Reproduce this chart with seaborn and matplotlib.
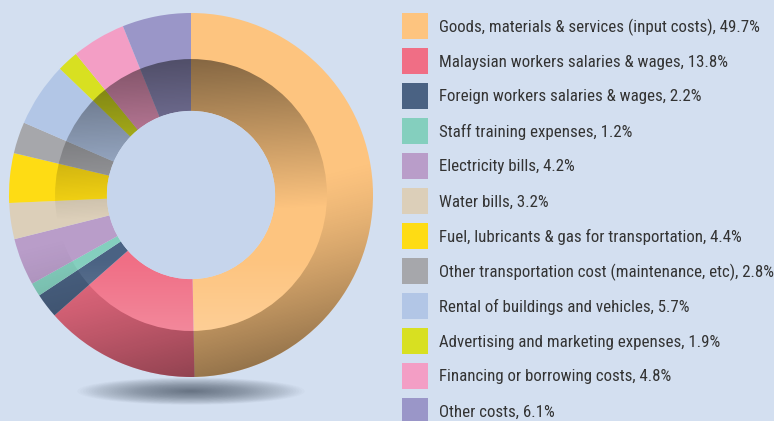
import numpy as np
import matplotlib
matplotlib.use("Agg")
import matplotlib.pyplot as plt
import seaborn as sns
from matplotlib import font_manager
from matplotlib.patches import Circle, Ellipse, Wedge

# cost items, share of total (%)
categories = [
    "Goods, materials & services (input costs)",
    "Malaysian workers salaries & wages",
    "Foreign workers salaries & wages",
    "Staff training expenses",
    "Electricity bills",
    "Water bills",
    "Fuel, lubricants & gas for transportation",
    "Other transportation cost (maintenance, etc)",
    "Rental of buildings and vehicles",
    "Advertising and marketing expenses",
    "Financing or borrowing costs",
    "Other costs",
]
shares = [49.7, 13.8, 2.2, 1.2, 4.2, 3.2, 4.4, 2.8, 5.7, 1.9, 4.8, 6.1]
colors = ["#fdc47f", "#f06e85", "#4a6283", "#84cfbe", "#b99dc9", "#dccfb9",
          "#fedc14", "#a6a7ab", "#b2c6e6", "#d8e021", "#f39ec5", "#9a96c8"]

BG = "#d3dff0"
HOLE = "#c6d5ec"
R_OUT, R_MID, R_IN = 1.0, 0.747, 0.462

sns.set_theme(style="white")

# narrowest installed sans available for the legend
installed = {f.name for f in font_manager.fontManager.ttflist}
stretch = "normal"
family = "Roboto"
for cand in ["Liberation Sans Narrow", "Roboto Condensed", "Open Sans Condensed"]:
    if cand in installed:
        family = cand
        break
else:
    condensed = [f for f in font_manager.fontManager.ttflist
                 if f.name == "DejaVu Sans" and "ondensed" in f.fname and f.style == "normal"]
    if condensed:
        family, stretch = "DejaVu Sans", "condensed"
plt.rcParams["font.family"] = [family, "DejaVu Sans"]

fig = plt.figure(figsize=(7.74, 4.21), dpi=100, facecolor=BG)

# pie axes: 182 px per data unit, centre at (191, 195) px from top-left
px = 182.0
ax = fig.add_axes([0, 0, 390 / 774, 1])
ax.set_facecolor(BG)
palette = sns.color_palette(colors)

# soft shadow under the ring (stacked translucent ellipses -> radial falloff)
for k in range(40):
    f = 1 - k / 40
    ax.add_patch(Ellipse((0, -1.078), 1.25 * f, 0.15 * f, color="#3a4454",
                         alpha=0.022, lw=0, zorder=0))

wedges, _ = ax.pie(shares, colors=palette, startangle=90, counterclock=False,
                   radius=R_OUT, wedgeprops=dict(width=R_OUT - R_IN, linewidth=0))
for w in wedges:
    w.set_zorder(2)

# shading: outer band darkens toward the bottom, inner band darkens toward the top
n = 400
yy, xx = np.mgrid[1:-1:n * 1j, -1:1:n * 1j]
outer = np.zeros((n, n, 4))
outer[..., 3] = 0.42 * np.clip((-yy - 0.05 + 0.25 * xx) / 1.0, 0, 1) ** 1.3
inner = np.zeros((n, n, 4))
dark = np.clip(0.06 + 0.42 * (yy - 0.05 * xx) / 0.75, 0, 0.48)
light = np.clip((-yy - 0.35) / 0.4, 0, 1) * 0.18
inner[..., :3] = np.where(light[..., None] > 0, 1.0, 0.0)
inner[..., 3] = np.where(light > 0, light, dark)

for img, r0, r1 in [(outer, R_MID, R_OUT), (inner, R_IN, R_MID)]:
    ring = Wedge((0, 0), r1, 0, 360, width=r1 - r0, transform=ax.transData)
    im = ax.imshow(img, extent=(-1, 1, -1, 1), zorder=3, interpolation="bilinear")
    im.set_clip_path(ring)

ax.add_patch(Circle((0, 0), R_IN, color=HOLE, lw=0, zorder=4))
ax.set_xlim(-191 / px, 199 / px)
ax.set_ylim(-(421 - 195) / px, 195 / px)
ax.set_aspect("equal")
ax.axis("off")

# legend
lax = fig.add_axes([390 / 774, 0, 384 / 774, 1])
lax.set_xlim(390, 774)
lax.set_ylim(421, 0)
lax.axis("off")
texts = []
for i, (name, val, col) in enumerate(zip(categories, shares, palette)):
    yc = 26 + 35 * i
    lax.add_patch(plt.Rectangle((402, yc - 13), 26, 26, color=col, lw=0))
    texts.append(lax.text(439, yc + 1, f"{name}, {val}%", va="center", ha="left",
                          fontsize=13, fontstretch=stretch, color="#333333"))

# shrink the labels so the longest one ends where it does in the original
renderer = fig.canvas.get_renderer()
widest = max(t.get_window_extent(renderer).width for t in texts)
size = min(13, 13 * 332 / widest)
for t in texts:
    t.set_fontsize(size)

fig.savefig("out.png", dpi=100, facecolor=BG)
